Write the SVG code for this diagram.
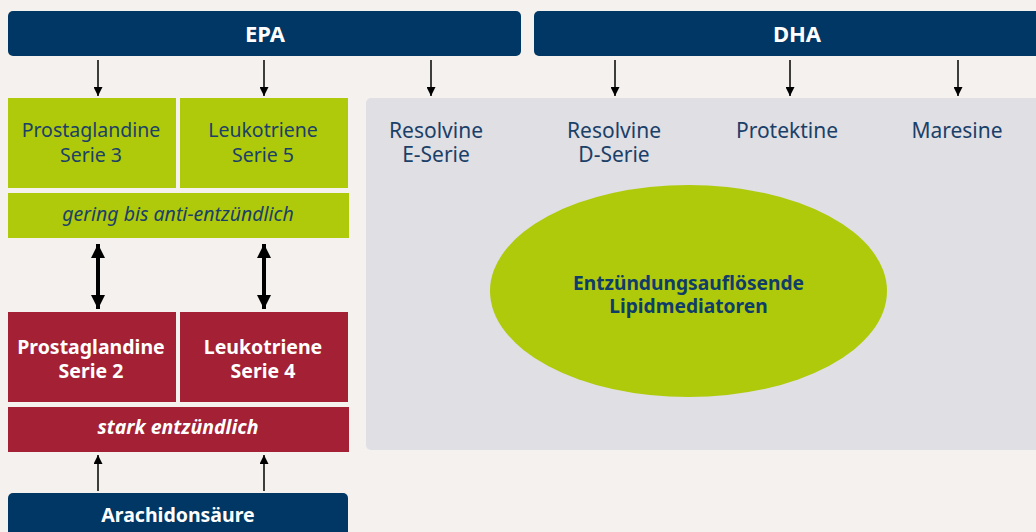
<svg xmlns="http://www.w3.org/2000/svg" width="1036" height="532" viewBox="0 0 1036 532">
<defs>
<style>
.bar{fill:#003764}
.green{fill:#afca0b}
.red{fill:#a32035}
.t{font-family:"Noto Sans","Open Sans",sans-serif;text-anchor:middle}
.hd{font-size:22px;font-weight:bold;fill:#fff}
.gt{font-size:19.5px;fill:#1b4068}
.rt{font-size:19.5px;font-weight:bold;fill:#fff}
.it{font-style:italic}
.dt{font-size:21px;fill:#1b4068}
.el{font-size:19.2px;font-weight:bold;fill:#0f3c68}
.ln{stroke:#000;stroke-width:1.5;fill:none}
.thick{stroke:#000;stroke-width:4;fill:none}
</style>
<marker id="ah" viewBox="0 0 10 10" refX="10" refY="5" markerWidth="10" markerHeight="9" markerUnits="userSpaceOnUse" orient="auto">
<path d="M0,0 L10,5 L0,10 Z" fill="#000"/>
</marker>
<marker id="ahb" viewBox="0 0 10 10" refX="10" refY="5" markerWidth="3.5" markerHeight="3.5" orient="auto-start-reverse">
<path d="M0,0 L10,5 L0,10 Z" fill="#000"/>
</marker>
</defs>
<rect width="1036" height="532" fill="#f4f1ee"/>

<g id="epa"><rect class="bar" x="8" y="11" width="513" height="45" rx="5"/><text class="t hd" x="265" y="42">EPA</text></g>
<g id="dha"><rect class="bar" x="534" y="11" width="512" height="45" rx="5"/><text class="t hd" x="797" y="42">DHA</text></g>

<g id="panel"><rect x="366" y="98" width="680" height="352" rx="5" fill="#dfdfe4"/></g>

<g id="pg3"><rect class="green" x="8" y="98" width="168" height="90"/><text class="t gt" x="91" y="137">Prostaglandine</text><text class="t gt" x="91" y="162">Serie 3</text></g>
<g id="lt5"><rect class="green" x="180" y="98" width="168" height="90"/><text class="t gt" x="263" y="137">Leukotriene</text><text class="t gt" x="263" y="162">Serie 5</text></g>
<g id="gering"><rect class="green" x="8" y="193" width="341" height="45"/><text class="t gt it" x="178" y="221">gering bis anti-entzündlich</text></g>

<g id="pg2"><rect class="red" x="8" y="312" width="168" height="90"/><text class="t rt" x="91" y="354">Prostaglandine</text><text class="t rt" x="91" y="378">Serie 2</text></g>
<g id="lt4"><rect class="red" x="180" y="312" width="168" height="90"/><text class="t rt" x="263" y="354">Leukotriene</text><text class="t rt" x="263" y="378">Serie 4</text></g>
<g id="stark"><rect class="red" x="8" y="407" width="341" height="45"/><text class="t rt it" x="178" y="434">stark entzündlich</text></g>

<g id="arachidon"><rect class="bar" x="8" y="493" width="340" height="50" rx="5"/><text class="t hd" x="178" y="522" style="font-size:19.5px">Arachidonsäure</text></g>

<g id="rve"><text class="t dt" x="436" y="138">Resolvine</text><text class="t dt" x="436" y="162">E-Serie</text></g>
<g id="rvd"><text class="t dt" x="614" y="138">Resolvine</text><text class="t dt" x="614" y="162">D-Serie</text></g>
<g id="prot"><text class="t dt" x="787" y="138">Protektine</text></g>
<g id="mar"><text class="t dt" x="957" y="138">Maresine</text></g>

<g id="lipid"><ellipse cx="688.5" cy="291" rx="198.5" ry="106" fill="#afca0b"/><text class="t el" x="688.5" y="290">Entzündungsauflösende</text><text class="t el" x="688.5" y="313">Lipidmediatoren</text></g>

<g id="connectors">
<line class="ln" x1="98" y1="60" x2="98" y2="96" marker-end="url(#ah)"/>
<line class="ln" x1="264" y1="60" x2="264" y2="96" marker-end="url(#ah)"/>
<line class="ln" x1="431" y1="60" x2="431" y2="96" marker-end="url(#ah)"/>
<line class="ln" x1="615" y1="60" x2="615" y2="96" marker-end="url(#ah)"/>
<line class="ln" x1="790" y1="60" x2="790" y2="96" marker-end="url(#ah)"/>
<line class="ln" x1="958" y1="60" x2="958" y2="96" marker-end="url(#ah)"/>
<line class="thick" x1="98" y1="244" x2="98" y2="309" marker-start="url(#ahb)" marker-end="url(#ahb)"/>
<line class="thick" x1="264" y1="244" x2="264" y2="309" marker-start="url(#ahb)" marker-end="url(#ahb)"/>
<line class="ln" x1="98" y1="491" x2="98" y2="455" marker-end="url(#ah)"/>
<line class="ln" x1="264" y1="491" x2="264" y2="455" marker-end="url(#ah)"/>
</g>
</svg>
